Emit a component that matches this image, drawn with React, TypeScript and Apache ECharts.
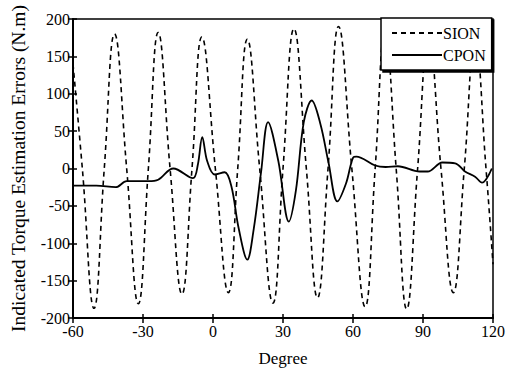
import React, { useEffect, useRef } from "react";
import * as echarts from "echarts";

const xTicks = [-60, -30, 0, 30, 60, 90, 120];
const yTicks = [-200, -150, -100, -50, 0, 50, 100, 150, 200];

// SION: extrema and zero crossings [degree, N.m]
const sionDeg = [-60, -56, -51, -46.6, -42.2, -37, -32, -27.7, -23.5, -18.4, -13.3, -9, -4.8, 1, 6.6, 10.6, 14.7, 20, 25.7, 30, 34.7, 40, 44.8, 49.3, 53.8, 59.5, 65.2, 69.5, 73.7, 78.5, 83, 87.7, 92.4, 97.7, 103, 107.7, 112.3, 117, 120];
const sionVal = [140, 0, -187, 0, 180, 0, -181, 0, 182, 0, -168, 0, 176, 0, -166, 0, 173, 0, -180, 0, 187, 0, -173, 0, 190, 0, -185, 0, 185, 0, -188, 0, 180, 0, -166, 0, 175, 0, -128];

// CPON
const cponDeg = [-60, -50, -41.7, -37, -27.7, -23.5, -17, -8.6, -6.5, -4.6, -2.5, 0.7, 5, 7.9, 11, 14.7, 17.5, 20.6, 23.6, 28, 32.5, 35.5, 38.9, 42.3, 46, 49.5, 53.3, 57, 60.1, 61.4, 69.5, 74, 79.2, 88.6, 92, 98.3, 103.8, 108, 112.3, 115.3, 119.5];
const cponVal = [-23, -23, -25, -17, -17, -15, 0, -13, 5, 42, 10, -8, -5, -24, -80, -122, -80, -5, 62, 10, -71, -30, 62, 91, 60, 8, -44, -20, 15, 16, 4, 2, 3, -4, -4, 8, 7, -4, -11, -19, 0];

const FONT = "'Liberation Serif', 'DejaVu Serif', serif";

export default function App() {
  const ref = useRef<HTMLDivElement>(null);
  useEffect(() => {
    if (!ref.current) return;
    const chart = echarts.init(ref.current, null, { renderer: "svg" });
    const tickStyle = { color: "#000", width: 1.5 };
    chart.setOption({
      animation: false,
      backgroundColor: "#fff",
      textStyle: { fontFamily: FONT, color: "#000" },
      grid: {
        left: 72,
        right: 12,
        top: 19,
        bottom: 54,
        show: true,
        borderColor: "#000",
        borderWidth: 1.5,
        backgroundColor: "transparent",
      },
      legend: {
        orient: "vertical",
        left: 381,
        top: 18,
        width: 115,
        height: 52,
        padding: [7, 6, 7, 10],
        itemWidth: 50,
        itemHeight: 14,
        itemGap: 6,
        itemStyle: { opacity: 0 },
        backgroundColor: "#fff",
        borderColor: "#000",
        borderWidth: 1.5,
        shadowColor: "#000",
        shadowBlur: 0,
        shadowOffsetX: 2,
        shadowOffsetY: 2,
        textStyle: { fontFamily: FONT, fontSize: 16, color: "#000", padding: [0, 0, 0, -4] },
        data: ["SION", "CPON"],
      },
      xAxis: [
        {
          type: "value",
          min: xTicks[0],
          max: xTicks[xTicks.length - 1],
          interval: 30,
          name: "Degree",
          nameLocation: "middle",
          nameGap: 32,
          nameTextStyle: { fontFamily: FONT, fontSize: 17, color: "#000" },
          axisLine: { show: true, onZero: false, lineStyle: { color: "#000", width: 2 } },
          axisTick: { show: true, length: 5, lineStyle: tickStyle },
          axisLabel: { fontFamily: FONT, fontSize: 16, color: "#000", margin: 5 },
          splitLine: { show: false },
        },
        {
          type: "value",
          position: "bottom",
          min: xTicks[0],
          max: xTicks[xTicks.length - 1],
          interval: 30,
          axisLine: { show: false, onZero: false },
          axisTick: { show: true, inside: true, length: 4, lineStyle: tickStyle },
          axisLabel: { show: false },
          splitLine: { show: false },
        },
      ],
      yAxis: [
        {
          type: "value",
          min: yTicks[0],
          max: yTicks[yTicks.length - 1],
          interval: 50,
          name: "Indicated Torque Estimation Errors (N.m)",
          nameLocation: "middle",
          nameGap: 45,
          nameTextStyle: { fontFamily: FONT, fontSize: 19.5, color: "#000" },
          axisLine: { show: true, onZero: false, lineStyle: { color: "#000", width: 2 } },
          axisTick: { show: true, length: 5, lineStyle: tickStyle },
          axisLabel: { fontFamily: FONT, fontSize: 16, color: "#000", margin: 3 },
          splitLine: { show: false },
        },
        {
          type: "value",
          position: "left",
          min: yTicks[0],
          max: yTicks[yTicks.length - 1],
          interval: 50,
          axisLine: { show: false, onZero: false },
          axisTick: { show: true, inside: true, length: 4, lineStyle: tickStyle },
          axisLabel: { show: false },
          splitLine: { show: false },
        },
      ],
      series: [
        {
          name: "SION",
          type: "line",
          xAxisIndex: 0,
          yAxisIndex: 0,
          data: sionDeg.map((d, i) => [d, sionVal[i]]),
          smooth: 0.45,
          symbol: "none",
          lineStyle: { color: "#000", width: 1.6, type: [5, 4] },
          itemStyle: { color: "#000" },
          z: 2,
        },
        {
          name: "CPON",
          type: "line",
          xAxisIndex: 0,
          yAxisIndex: 0,
          data: cponDeg.map((d, i) => [d, cponVal[i]]),
          smooth: 0.35,
          symbol: "none",
          lineStyle: { color: "#000", width: 1.8, type: "solid" },
          itemStyle: { color: "#000" },
          z: 3,
        },
      ],
    });
    return () => chart.dispose();
  }, []);
  return <div ref={ref} style={{ width: 508, height: 372, position: "absolute", left: 0, top: 0 }} />;
}
